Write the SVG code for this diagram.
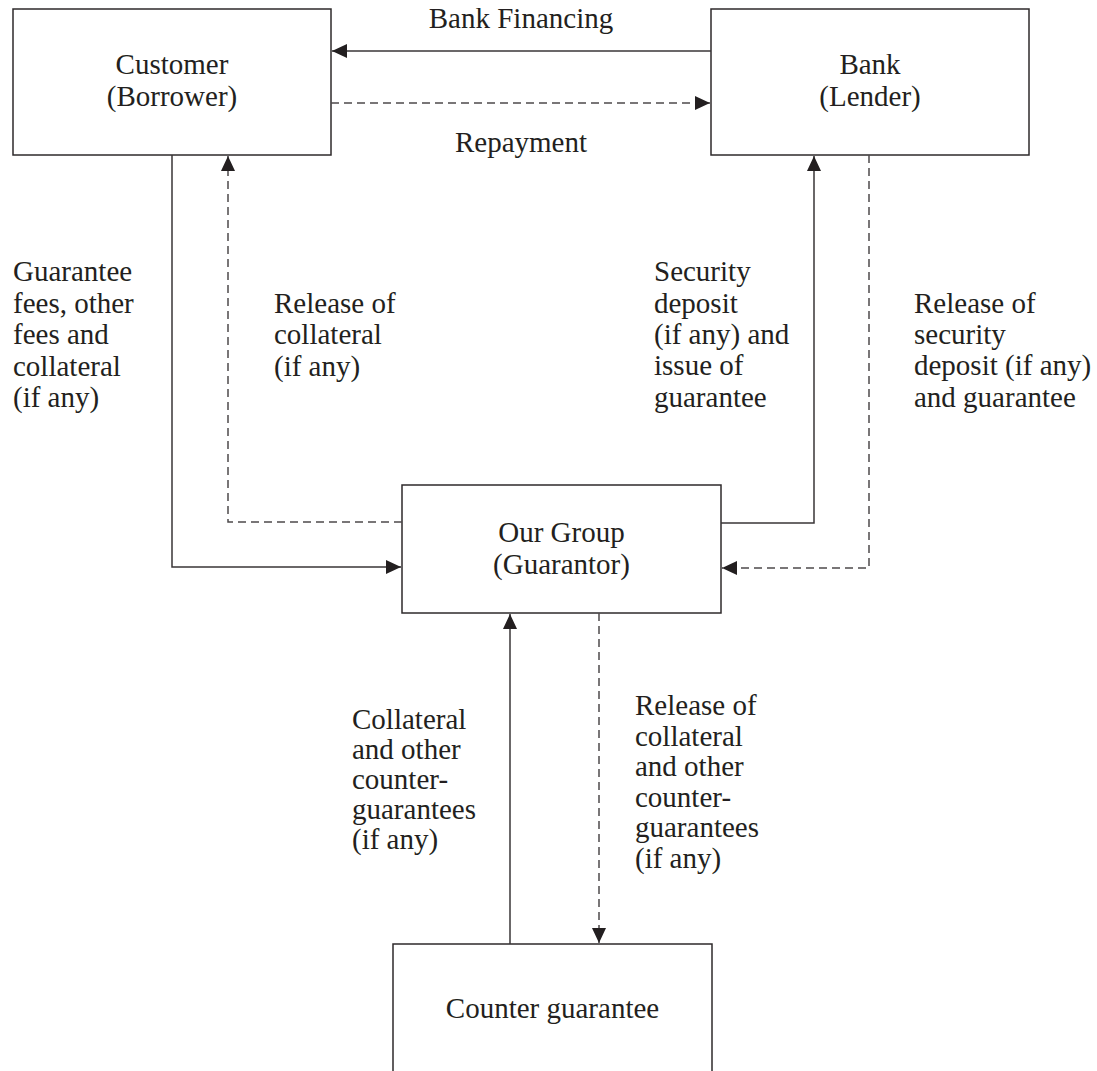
<svg xmlns="http://www.w3.org/2000/svg" width="1097" height="1071" viewBox="0 0 1097 1071">
  <style>
    .box { fill: #ffffff; stroke: #2e2a2b; stroke-width: 1.5; }
    .lbl { font-family: "Liberation Serif", "Times New Roman", serif; font-size: 29px; fill: #231f20; }
    .mid { text-anchor: middle; }
    .solid { fill: none; stroke: #3a3637; stroke-width: 1.5; }
    .dash { fill: none; stroke: #4d4a4b; stroke-width: 1.5; stroke-dasharray: 8 5; }
  </style>
  <defs>
    <marker id="arrow" markerUnits="userSpaceOnUse" markerWidth="16" markerHeight="16" refX="15" refY="7" orient="auto">
      <path d="M0,0 L15,7 L0,14 Z" fill="#231f20"/>
    </marker>
  </defs>
  <rect width="1097" height="1071" fill="#ffffff"/>

  <!-- Nodes -->
  <g id="customer">
    <rect class="box" x="13" y="9" width="318" height="146"/>
    <text class="lbl mid" x="172" y="74">Customer</text>
    <text class="lbl mid" x="172" y="106">(Borrower)</text>
  </g>
  <g id="bank">
    <rect class="box" x="711" y="9" width="318" height="146"/>
    <text class="lbl mid" x="870" y="74">Bank</text>
    <text class="lbl mid" x="870" y="106">(Lender)</text>
  </g>
  <g id="guarantor">
    <rect class="box" x="402" y="485" width="319" height="128"/>
    <text class="lbl mid" x="561.5" y="542">Our Group</text>
    <text class="lbl mid" x="561.5" y="574">(Guarantor)</text>
  </g>
  <g id="counter-guarantee">
    <rect class="box" x="393" y="944" width="319" height="140"/>
    <text class="lbl mid" x="552.5" y="1018">Counter guarantee</text>
  </g>

  <!-- Connectors -->
  <g id="connectors">
    <path class="solid" d="M711,51 H332" marker-end="url(#arrow)"/>
    <path class="dash" d="M331,103 H710" marker-end="url(#arrow)"/>
    <path class="solid" d="M172,155 V567 H401" marker-end="url(#arrow)"/>
    <path class="dash" d="M402,522 H228 V156" marker-end="url(#arrow)"/>
    <path class="solid" d="M721,523 H814 V156" marker-end="url(#arrow)"/>
    <path class="dash" d="M869,155 V568 H722" marker-end="url(#arrow)"/>
    <path class="solid" d="M510,944 V614" marker-end="url(#arrow)"/>
    <path class="dash" d="M599,613 V943" marker-end="url(#arrow)"/>
  </g>

  <!-- Connector labels -->
  <g id="labels">
    <text class="lbl mid" x="521" y="28">Bank Financing</text>
    <text class="lbl mid" x="521" y="152">Repayment</text>

    <text class="lbl" x="13" y="281">Guarantee</text>
    <text class="lbl" x="13" y="313">fees, other</text>
    <text class="lbl" x="13" y="344">fees and</text>
    <text class="lbl" x="13" y="376">collateral</text>
    <text class="lbl" x="13" y="407">(if any)</text>

    <text class="lbl" x="274" y="313">Release of</text>
    <text class="lbl" x="274" y="344">collateral</text>
    <text class="lbl" x="274" y="376">(if any)</text>

    <text class="lbl" x="654" y="281">Security</text>
    <text class="lbl" x="654" y="313">deposit</text>
    <text class="lbl" x="654" y="344">(if any) and</text>
    <text class="lbl" x="654" y="375">issue of</text>
    <text class="lbl" x="654" y="407">guarantee</text>

    <text class="lbl" x="914" y="313">Release of</text>
    <text class="lbl" x="914" y="344">security</text>
    <text class="lbl" x="914" y="375">deposit (if any)</text>
    <text class="lbl" x="914" y="407">and guarantee</text>

    <text class="lbl" x="352" y="729">Collateral</text>
    <text class="lbl" x="352" y="759">and other</text>
    <text class="lbl" x="352" y="789">counter-</text>
    <text class="lbl" x="352" y="819">guarantees</text>
    <text class="lbl" x="352" y="849">(if any)</text>

    <text class="lbl" x="635" y="715">Release of</text>
    <text class="lbl" x="635" y="745.5">collateral</text>
    <text class="lbl" x="635" y="776">and other</text>
    <text class="lbl" x="635" y="806.5">counter-</text>
    <text class="lbl" x="635" y="837">guarantees</text>
    <text class="lbl" x="635" y="867.5">(if any)</text>
  </g>
</svg>
